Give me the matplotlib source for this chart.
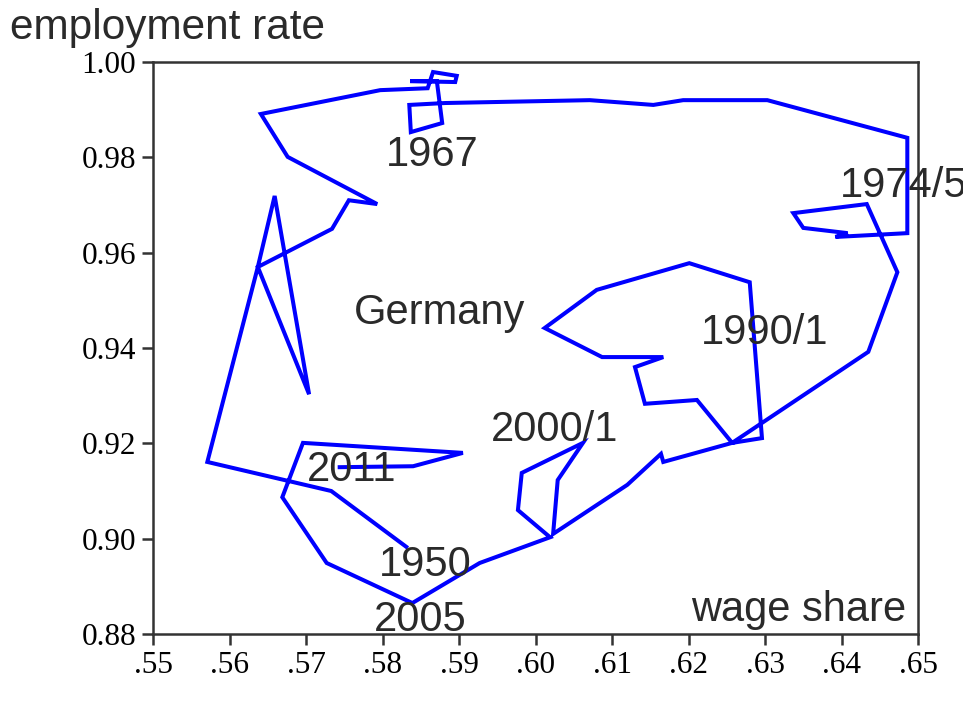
import matplotlib
matplotlib.use("Agg")
import matplotlib.pyplot as plt

# wage share (x) and employment rate (y), in path order 1950 -> 2011
wage_share = [
    0.5831, 0.5733, 0.5571, 0.5637, 0.5659, 0.5704, 0.5637, 0.5734, 0.5756, 0.5793,
    0.5676, 0.5641, 0.5797, 0.5859, 0.5866, 0.5897, 0.5895, 0.5836, 0.5871, 0.5878,
    0.5837, 0.5835, 0.5882, 0.6071, 0.6154, 0.6193, 0.6303, 0.6486, 0.6486, 0.6392,
    0.6408, 0.6350, 0.6337, 0.6433, 0.6473, 0.6435, 0.6257, 0.6296, 0.6280, 0.6201,
    0.6080, 0.6012, 0.6087, 0.6167, 0.6130, 0.6143, 0.6211, 0.6257, 0.6167, 0.6164,
    0.6120, 0.6023, 0.6029, 0.6062, 0.5982, 0.5977, 0.6019, 0.5927, 0.5839, 0.5727,
    0.5669, 0.5696, 0.5905, 0.5840, 0.5744,
]
employment = [
    0.8983, 0.9100, 0.9161, 0.9570, 0.9719, 0.9303, 0.9570, 0.9650, 0.9710, 0.9702,
    0.9801, 0.9891, 0.9941, 0.9945, 0.9979, 0.9971, 0.9958, 0.9960, 0.9960, 0.9872,
    0.9853, 0.9910, 0.9914, 0.9920, 0.9910, 0.9920, 0.9920, 0.9841, 0.9641, 0.9633,
    0.9641, 0.9652, 0.9683, 0.9702, 0.9559, 0.9392, 0.9201, 0.9211, 0.9538, 0.9578,
    0.9522, 0.9442, 0.9381, 0.9381, 0.9360, 0.9283, 0.9291, 0.9201, 0.9161, 0.9178,
    0.9113, 0.9010, 0.9123, 0.9201, 0.9138, 0.9060, 0.9003, 0.8949, 0.8865, 0.8949,
    0.9087, 0.9201, 0.9180, 0.9152, 0.9150,
]

# annotations: text, x, y
labels = ["1967", "Germany", "1990/1", "2000/1", "2011", "1950", "2005"]
label_x = [0.5865, 0.5875, 0.6300, 0.6025, 0.5760, 0.5856, 0.5849]
label_y = [0.9805, 0.9473, 0.9431, 0.9228, 0.9144, 0.8945, 0.8829]

x_ticks = [0.55, 0.56, 0.57, 0.58, 0.59, 0.60, 0.61, 0.62, 0.63, 0.64, 0.65]
y_ticks = [0.88, 0.90, 0.92, 0.94, 0.96, 0.98, 1.00]

sans = ["Liberation Sans", "DejaVu Sans"]
serif = ["Liberation Serif", "DejaVu Serif"]
txt_color = "#2a2a2a"

fig = plt.figure(figsize=(9.63, 7.04), dpi=100)
ax = fig.add_axes([0.1589, 0.0994, 0.7944, 0.8125])

ax.plot(wage_share, employment, color="#0000ff", lw=2.9, solid_joinstyle="miter")

for t, x, y in zip(labels, label_x, label_y):
    ax.text(x, y, t, ha="center", va="center", fontsize=30, family=sans, color=txt_color)
ax.text(0.6398, 0.9740, "1974/5", ha="left", va="center", fontsize=30,
        family=sans, color=txt_color, clip_on=False)
ax.text(0.6484, 0.8850, "wage share", ha="right", va="center", fontsize=30,
        family=sans, color=txt_color)
fig.text(0.010, 0.960, "employment rate", ha="left", va="center", fontsize=30.5,
         family=sans, color=txt_color)

ax.set_xlim(0.55, 0.65)
ax.set_ylim(0.88, 1.00)
ax.set_xticks(x_ticks)
ax.set_xticklabels([("%.2f" % v)[1:] for v in x_ticks], family=serif, fontsize=22.5)
ax.set_yticks(y_ticks)
ax.set_yticklabels(["%.2f" % v for v in y_ticks], family=serif, fontsize=22.5)
ax.tick_params(direction="out", length=8, width=1.8, color="#333333", pad=4)
for s in ax.spines.values():
    s.set_linewidth(1.8)
    s.set_color("#333333")

fig.savefig("out.png", dpi=100)
